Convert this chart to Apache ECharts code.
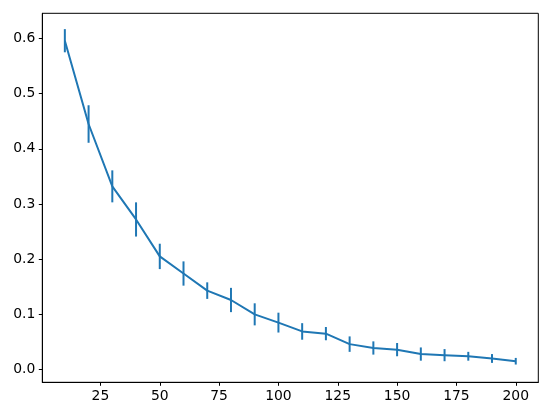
<!DOCTYPE html>
<html>
<head>
<meta charset="utf-8">
<script src="https://cdn.jsdelivr.net/npm/echarts@6/dist/echarts.min.js"></script>
<style>
  html, body { margin: 0; padding: 0; background: #fff; }
  #main { width: 551px; height: 416px; }
</style>
</head>
<body>
<div id="main"></div>
<script>
// data
var xVals = [10, 20, 30, 40, 50, 60, 70, 80, 90, 100, 110, 120, 130, 140, 150, 160, 170, 180, 190, 200]
var yVals = [0.596, 0.445, 0.332, 0.272, 0.205, 0.174, 0.143, 0.126, 0.100, 0.085,
  0.069, 0.065, 0.046, 0.039, 0.036, 0.028, 0.026, 0.024, 0.020, 0.015]
var yErr = [0.021, 0.034, 0.029, 0.031, 0.023, 0.022, 0.015, 0.022, 0.020, 0.018,
  0.015, 0.012, 0.014, 0.012, 0.012, 0.012, 0.011, 0.008, 0.008, 0.006]
var xTicks = [25, 50, 75, 100, 125, 150, 175, 200]
var yTicks = [0, 0.1, 0.2, 0.3, 0.4, 0.5, 0.6]

var blue = '#1f77b4'
var font = 'DejaVu Sans'

var lineData = xVals.map(function (x, i) { return [x, yVals[i]] })
var errData = xVals.map(function (x, i) { return [x, yVals[i], yErr[i]] })

var chart = echarts.init(document.getElementById('main'), null, { renderer: 'canvas' })

var option = {
  animation: false,
  backgroundColor: '#fff',
  grid: {
    left: 42.3,
    right: 12.7,
    top: 13.3,
    bottom: 33.7,
    show: true,
    borderColor: '#000',
    borderWidth: 1,
  },
  xAxis: {
    type: 'value',
    min: 0.5,
    max: 209.5,
    axisLine: { show: true, onZero: false, lineStyle: { color: '#000', width: 1 } },
    axisTick: {
      show: true,
      length: 3.5,
      customValues: xTicks,
      lineStyle: { color: '#000', width: 1 },
    },
    axisLabel: {
      customValues: xTicks,
      margin: 7,
      color: '#000',
      fontFamily: font,
      fontSize: 13.9,
    },
    splitLine: { show: false },
  },
  yAxis: {
    type: 'value',
    min: -0.0232,
    max: 0.6457,
    axisLine: { show: true, onZero: false, lineStyle: { color: '#000', width: 1 } },
    axisTick: {
      show: true,
      length: 3.5,
      customValues: yTicks,
      lineStyle: { color: '#000', width: 1 },
    },
    axisLabel: {
      customValues: yTicks,
      margin: 7,
      color: '#000',
      fontFamily: font,
      fontSize: 13.9,
      formatter: function (v) { return v.toFixed(1) },
    },
    splitLine: { show: false },
  },
  series: [
    {
      name: 'mean',
      type: 'line',
      data: lineData,
      symbol: 'none',
      lineStyle: { color: blue, width: 2 },
      z: 3,
    },
    {
      name: 'err',
      type: 'custom',
      data: errData,
      renderItem: function (params, api) {
        var x = api.value(0)
        var y = api.value(1)
        var e = api.value(2)
        var lo = api.coord([x, y - e])
        var hi = api.coord([x, y + e])
        return {
          type: 'line',
          shape: { x1: lo[0], y1: lo[1], x2: hi[0], y2: hi[1] },
          style: { stroke: blue, lineWidth: 2 },
        }
      },
      z: 4,
    },
  ],
}
chart.setOption(option)
</script>
</body>
</html>
